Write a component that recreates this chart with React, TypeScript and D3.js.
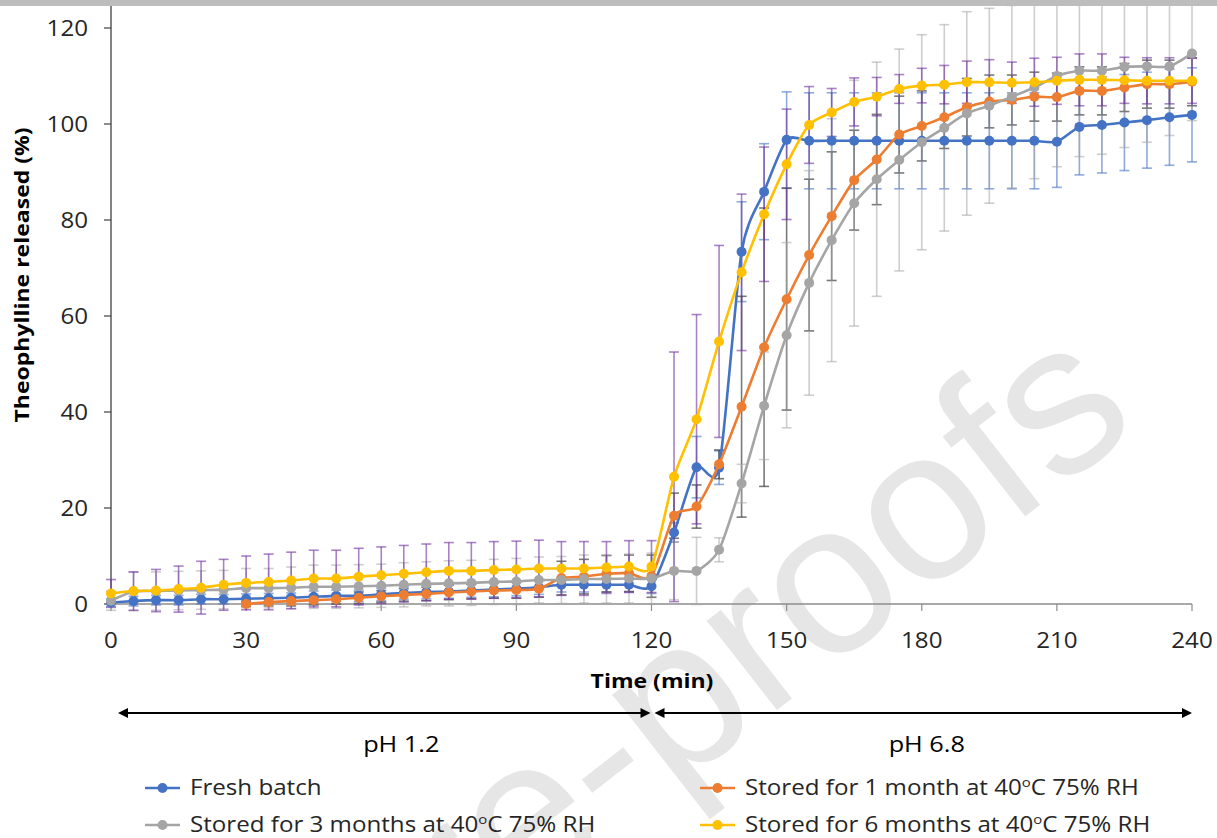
import React, { useEffect, useRef } from 'react';
import * as d3 from 'd3';

// sampling times (min)
const times = [0, 5, 10, 15, 20, 25, 30, 35, 40, 45, 50, 55, 60, 65, 70, 75, 80, 85, 90, 95, 100, 105, 110, 115, 120,
  125, 130, 135, 140, 145, 150, 155, 160, 165, 170, 175, 180, 185, 190, 195, 200, 205, 210, 215, 220, 225, 230, 235, 240];

// theophylline released (%)
const freshBatch = [0.3, 0.6, 0.8, 0.8, 1.0, 1.0, 1.1, 1.2, 1.3, 1.5, 1.7, 1.7, 2.0, 2.3, 2.5, 2.6, 2.8, 3.0, 3.2, 3.5, 4.0, 4.0, 4.0, 4.0, 3.7,
  14.9, 28.5, 28.4, 73.4, 85.9, 96.7, 96.5, 96.5, 96.5, 96.5, 96.5, 96.5, 96.5, 96.5, 96.5, 96.5, 96.5, 96.3, 99.4, 99.8, 100.3, 100.8, 101.4, 101.9];
const oneMonth = [null, null, null, null, null, null, 0.0, 0.4, 0.6, 0.8, 1.0, 1.3, 1.6, 1.9, 2.1, 2.4, 2.6, 2.8, 2.9, 3.2, 5.4, 5.7, 6.3, 6.4, 5.8,
  18.4, 20.3, 29.1, 41.1, 53.5, 63.5, 72.7, 80.8, 88.3, 92.6, 97.8, 99.6, 101.4, 103.5, 104.7, 105.0, 105.7, 105.6, 106.9, 106.9, 107.6, 108.3, 108.3, 108.8];
const threeMonths = [0.7, 2.6, 2.7, 2.8, 2.9, 3.0, 3.3, 3.3, 3.4, 3.6, 3.6, 3.7, 3.8, 4.0, 4.2, 4.3, 4.4, 4.6, 4.7, 5.0, 5.0, 5.2, 5.2, 5.3, 5.3,
  6.9, 6.9, 11.3, 25.1, 41.3, 56.0, 66.9, 75.8, 83.5, 88.5, 92.5, 96.2, 99.2, 102.2, 103.8, 105.7, 107.6, 110.0, 111.1, 111.1, 111.9, 112.0, 112.0, 114.7];
const sixMonths = [2.2, 2.7, 2.8, 3.1, 3.4, 4.0, 4.4, 4.6, 4.9, 5.3, 5.3, 5.7, 6.0, 6.3, 6.6, 6.9, 6.9, 7.1, 7.2, 7.4, 7.4, 7.4, 7.6, 7.8, 7.8,
  26.5, 38.5, 54.7, 69.1, 81.2, 91.6, 99.8, 102.4, 104.6, 105.7, 107.3, 108.0, 108.2, 108.7, 108.7, 108.6, 108.7, 109.0, 109.2, 109.2, 109.1, 109.0, 109.0, 109.0];

// standard deviations
const freshBatchErr = [0.8, 1, 1, 1, 1, 1, 1, 1, 1, 1.2, 1.2, 1.2, 1.3, 1.3, 1.4, 1.4, 1.4, 1.5, 1.5, 1.5, 1.5, 1.5, 1.5, 1.5, 1.5,
  2, 6.4, 3.5, 10.4, 10, 10, 10, 10, 10, 10, 10, 10, 10, 10, 10, 10, 10, 9.5, 10, 10, 10, 10, 10, 9.8];
const oneMonthErr = [null, null, null, null, null, null, 0.5, 0.8, 1, 1, 1, 1.2, 1.2, 1.3, 1.4, 1.5, 1.5, 1.6, 1.7, 1.8, 3.5, 3.6, 3.8, 3.8, 4.4,
  4.7, 4.5, 3, 23, 29, 23.1, 15.8, 13.4, 10.4, 9.4, 8, 7.3, 6.5, 6, 5.5, 5.2, 5.1, 5, 5, 5, 5, 5, 5, 5];
const threeMonthsErr = [2, 4, 4, 4, 4, 4, 4.1, 4.1, 4.3, 4.5, 4.5, 4.5, 4.5, 4.6, 4.6, 4.7, 4.7, 4.7, 4.8, 4.8, 4.9, 5, 5, 5.1, 5.3,
  6, 7, 2.5, 4, 11.2, 19.3, 23.4, 25.3, 25.6, 24.4, 23.1, 22.4, 21.5, 21.2, 20.3, 19, 19, 18.9, 17.9, 17.4, 16.8, 15.8, 14.4, 14];
const sixMonthsErr = [2.9, 4, 4.4, 4.8, 5.5, 5.3, 5.6, 5.8, 5.9, 5.9, 5.9, 5.9, 5.9, 5.9, 5.9, 5.9, 5.9, 5.9, 5.9, 5.9, 5.6, 5.6, 5.4, 5.4, 5.4,
  26, 21.8, 20, 16.3, 14, 11.5, 8, 5, 5, 4, 3, 3.6, 4, 4.4, 4.7, 4.3, 5, 4.9, 5.4, 5.4, 4.8, 4.8, 4.8, 4.7];

const xTicks = [0, 30, 60, 90, 120, 150, 180, 210, 240];
const yTicks = [0, 20, 40, 60, 80, 100, 120];
const phaseLabels = ['pH 1.2', 'pH 6.8'];
const phaseRanges = [[0, 120], [120, 240]];
const legendLabels = ['Fresh batch', 'Stored for 1 month at 40', 'Stored for 3 months at 40', 'Stored for 6 months at 40'];

const series = [
  { name: legendLabels[0], values: freshBatch, errors: freshBatchErr, color: '#4472C4', errColor: '#4472C4', errOpacity: 0.6 },
  { name: legendLabels[1], values: oneMonth, errors: oneMonthErr, color: '#ED7D31', errColor: '#404040', errOpacity: 0.7 },
  { name: legendLabels[2], values: threeMonths, errors: threeMonthsErr, color: '#A5A5A5', errColor: '#A5A5A5', errOpacity: 0.55 },
  { name: legendLabels[3], values: sixMonths, errors: sixMonthsErr, color: '#FFC000', errColor: '#7030A0', errOpacity: 0.6 },
];

const FONT = "'Open Sans', 'Liberation Sans', sans-serif";
const STRETCH = 1.15;

const App = () => {
  const svgRef = useRef(null);

  useEffect(() => {
    const width = 1217;
    const height = 838;
    const plot = { left: 111, right: 1192, top: 28, bottom: 604 };

    const svg = d3.select(svgRef.current);
    svg.selectAll('*').remove();

    const x = d3.scaleLinear().domain([0, 240]).range([plot.left, plot.right]);
    const y = d3.scaleLinear().domain([0, 120]).range([plot.bottom, plot.top]);

    const label = (g, px, py, str, size, anchor, weight = 'normal', rotate = 0, fill = '#000') =>
      g.append('text')
        .attr('transform', `translate(${px},${py}) rotate(${rotate}) scale(${STRETCH},1)`)
        .attr('text-anchor', anchor)
        .attr('font-size', size)
        .attr('font-weight', weight)
        .attr('font-family', FONT)
        .attr('fill', fill)
        .text(str);

    svg.append('rect').attr('width', width).attr('height', height).attr('fill', '#fff');

    // watermark behind everything
    svg.append('text')
      .attr('transform', 'translate(1142,425) rotate(-38)')
      .attr('text-anchor', 'end')
      .attr('font-size', 215)
      .attr('font-family', "'Liberation Sans', Arial, sans-serif")
      .attr('fill', '#e6e6e6')
      .text('Journal Pre-proofs');

    // axes
    svg.append('line')
      .attr('x1', plot.left).attr('x2', plot.left)
      .attr('y1', 6).attr('y2', plot.bottom)
      .attr('stroke', '#404040').attr('stroke-width', 1.3);
    svg.append('line')
      .attr('x1', plot.left).attr('x2', plot.right)
      .attr('y1', plot.bottom).attr('y2', plot.bottom)
      .attr('stroke', '#8c8c8c').attr('stroke-width', 1.3);

    const yAxis = svg.append('g');
    yTicks.forEach(t => {
      yAxis.append('line')
        .attr('x1', plot.left - 7).attr('x2', plot.left)
        .attr('y1', y(t)).attr('y2', y(t))
        .attr('stroke', '#404040').attr('stroke-width', 1.2);
      label(yAxis, 88, y(t) + 7.5, String(t), 21, 'end', 'normal', 0, '#262626');
    });

    const xAxis = svg.append('g');
    xTicks.forEach(t => {
      xAxis.append('line')
        .attr('x1', x(t)).attr('x2', x(t))
        .attr('y1', plot.bottom).attr('y2', plot.bottom + 7)
        .attr('stroke', '#8c8c8c').attr('stroke-width', 1.2);
      label(xAxis, x(t), 648, String(t), 21, 'middle', 'normal', 0, '#262626');
    });

    label(svg, 29, 275, 'Theophylline released (%)', 20, 'middle', 'bold', -90);
    label(svg, 652, 688, 'Time (min)', 20, 'middle', 'bold');

    // error bars
    const errG = svg.append('g');
    series.forEach(s => {
      times.forEach((t, i) => {
        const v = s.values[i];
        const e = s.errors[i];
        if (v == null || e == null) return;
        const g = errG.append('g')
          .attr('stroke', s.errColor)
          .attr('stroke-opacity', s.errOpacity)
          .attr('stroke-width', 1.6);
        g.append('line').attr('x1', x(t)).attr('x2', x(t)).attr('y1', y(v - e)).attr('y2', y(v + e));
        g.append('line').attr('x1', x(t) - 5).attr('x2', x(t) + 5).attr('y1', y(v - e)).attr('y2', y(v - e));
        g.append('line').attr('x1', x(t) - 5).attr('x2', x(t) + 5).attr('y1', y(v + e)).attr('y2', y(v + e));
      });
    });

    // lines and markers
    const line = d3.line()
      .defined(d => d[1] != null)
      .x(d => x(d[0]))
      .y(d => y(d[1]))
      .curve(d3.curveCardinal.tension(0.3));

    series.forEach(s => {
      const pts = times.map((t, i) => [t, s.values[i]]);
      svg.append('path')
        .datum(pts)
        .attr('fill', 'none')
        .attr('stroke', s.color)
        .attr('stroke-width', 2.6)
        .attr('stroke-linejoin', 'round')
        .attr('d', line);
      svg.append('g')
        .selectAll('circle')
        .data(pts.filter(d => d[1] != null))
        .join('circle')
        .attr('cx', d => x(d[0]))
        .attr('cy', d => y(d[1]))
        .attr('r', 5)
        .attr('fill', s.color);
    });

    // phase arrows
    const arrowY = 713;
    const arrowG = svg.append('g');
    phaseRanges.forEach(([a, b], i) => {
      const x1 = x(a) + (i === 0 ? 7 : 3);
      const x2 = x(b) - (i === 0 ? 1 : 0);
      arrowG.append('line')
        .attr('x1', x1 + 6).attr('x2', x2 - 6)
        .attr('y1', arrowY).attr('y2', arrowY)
        .attr('stroke', '#000').attr('stroke-width', 2);
      arrowG.append('path')
        .attr('d', `M${x1},${arrowY} L${x1 + 10},${arrowY - 5} L${x1 + 10},${arrowY + 5} Z`)
        .attr('fill', '#000');
      arrowG.append('path')
        .attr('d', `M${x2},${arrowY} L${x2 - 10},${arrowY - 5} L${x2 - 10},${arrowY + 5} Z`)
        .attr('fill', '#000');
      label(arrowG, (x(a) + x(b)) / 2 + (i === 0 ? 20 : 5), 752, phaseLabels[i], 22, 'middle');
    });

    // legend
    const legendPos = [[145, 788], [700, 788], [145, 825], [700, 825]];
    series.forEach((s, i) => {
      const [lx, ly] = legendPos[i];
      const g = svg.append('g');
      g.append('line')
        .attr('x1', lx).attr('x2', lx + 35)
        .attr('y1', ly).attr('y2', ly)
        .attr('stroke', s.color).attr('stroke-width', 2.6);
      g.append('circle').attr('cx', lx + 17.5).attr('cy', ly).attr('r', 5).attr('fill', s.color);
      const t = label(g, lx + 45, ly + 7, '', 21, 'start', 'normal', 0, '#262626');
      t.append('tspan').text(s.name);
      if (i > 0) {
        t.append('tspan').attr('font-size', 13).attr('dy', -8).text('o');
        t.append('tspan').attr('dy', 8).text('C 75% RH');
      }
    });

    // page header strip
    svg.append('rect').attr('x', 0).attr('y', 0).attr('width', width).attr('height', 6).attr('fill', '#bdbdbd');
  }, []);

  return (
    <div>
      <svg ref={svgRef} width={1217} height={838}
        style={{ position: 'absolute', left: 0, top: 0, display: 'block' }}></svg>
    </div>
  );
};

export default App;
